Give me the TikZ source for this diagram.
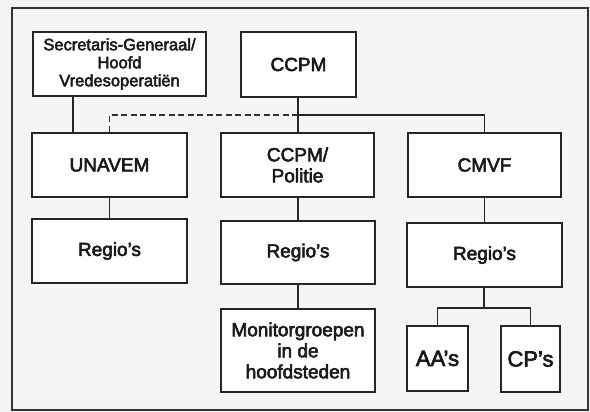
\documentclass[tikz,border=0pt]{standalone}
\usepackage{fontspec}
\setmainfont[FakeBold=3]{Liberation Sans}
\newcommand{\apo}{\char39 }
\begin{document}
\begin{tikzpicture}[x=1pt,y=-1pt,
  orgbox/.style={draw=black!85, line width=2pt, fill=white, align=center,
    inner sep=1pt, font=\fontsize{19}{21}\selectfont, text=black!90},
  conn/.style={draw=black!85, line width=1.8pt},
  dconn/.style={draw=black!80, line width=1.6pt, dash pattern=on 6pt off 3.5pt}]
\fill[black!4] (0,0) rectangle (590,412);
\useasboundingbox (0,0) rectangle (590,412);
\draw[black!80, line width=1.6pt] (12,8) rectangle (588,410);
% nodes
\node[orgbox, minimum width=173pt, minimum height=64pt, font=\fontsize{16.5}{18}\selectfont] (sg) at (119.5,64) {Secretaris-Generaal/\\Hoofd\\Vredesoperatiën};
\node[orgbox, minimum width=115pt, minimum height=65pt] (ccpm) at (298.5,64.5) {CCPM};
\node[orgbox, minimum width=155pt, minimum height=64pt] (unavem) at (109.5,165) {UNAVEM};
\node[orgbox, minimum width=153pt, minimum height=64pt] (politie) at (297.5,165) {CCPM/\\Politie};
\node[orgbox, minimum width=153pt, minimum height=64pt] (cmvf) at (484.5,165) {CMVF};
\node[orgbox, minimum width=155pt, minimum height=64pt] (r1) at (109.5,251) {Regio\apo s};
\node[orgbox, minimum width=154pt, minimum height=63pt] (r2) at (298,252.5) {Regio\apo s};
\node[orgbox, minimum width=155pt, minimum height=64pt] (r3) at (484.5,255) {Regio\apo s};
\node[orgbox, minimum width=154pt, minimum height=83pt] (mon) at (298,350.5) {Monitorgroepen\\in de\\hoofdsteden};
\node[orgbox, minimum width=61pt, minimum height=65pt, font=\fontsize{22}{24}\selectfont] (aa) at (437.5,358.5) {AA\apo s};
\node[orgbox, minimum width=59pt, minimum height=66pt, font=\fontsize{22}{24}\selectfont] (cp) at (530.5,359) {CP\apo s};
% connectors
\coordinate (j) at (298,115);
\draw[conn] (sg.south -| 73,0) -- (unavem.north -| 73,0);
\draw[dconn] (unavem.north) |- (j);
\draw[conn] (ccpm.south -| j) -- (politie.north -| j);
\draw[conn] (j) -| (cmvf.north);
\draw[conn] (unavem.south) -- (r1.north);
\draw[conn] (politie.south -| j) -- (r2.north -| j);
\draw[conn] (r2.south -| j) -- (mon.north -| j);
\draw[conn] (cmvf.south) -- (r3.north);
\coordinate (f) at (484,308);
\draw[conn] (r3.south -| f) -- (f);
\draw[conn] (aa.north) |- (f) -| (cp.north);
\end{tikzpicture}
\end{document}
